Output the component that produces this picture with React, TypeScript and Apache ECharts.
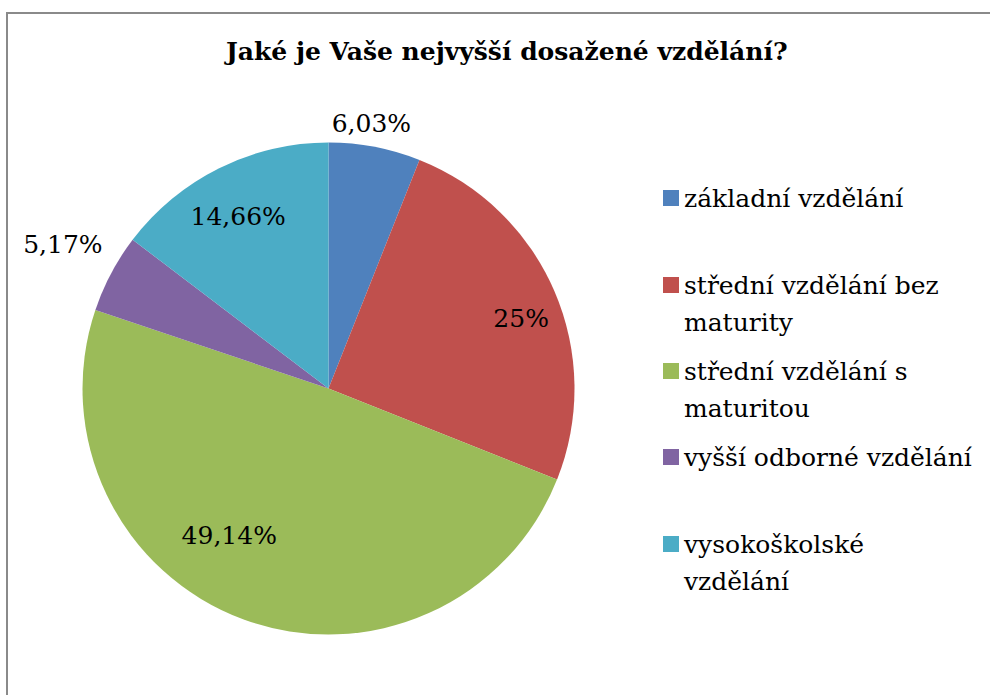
import React, { useEffect, useRef } from "react";
import * as echarts from "echarts";

const titleText = "Jaké je Vaše nejvyšší dosažené vzdělání?";
const categories = [
  "základní vzdělání",
  "střední vzdělání bez maturity",
  "střední vzdělání s maturitou",
  "vyšší odborné vzdělání",
  "vysokoškolské vzdělání",
];
const legendLabels = [
  "základní vzdělání",
  "střední vzdělání bez\nmaturity",
  "střední vzdělání s\nmaturitou",
  "vyšší odborné vzdělání",
  "vysokoškolské\nvzdělání",
];
const values = [6.03, 25, 49.14, 5.17, 14.66];
const colors = ["#4F81BD", "#C0504D", "#9BBB59", "#8064A2", "#4BACC6"];

const FONT = "DejaVu Serif";

// layout / style constants
const CX = 328.5;
const CY = 388.5;
const R = 246;
const LEGEND_ICON_CENTERS = [198, 285, 371, 457, 544];
const LEGEND_LH = 37;
// label nudges (Excel "best fit" placement), per slice
const LABEL_NUDGE = [
  [5, -68],
  [8, 9],
  [-30, -42],
  [-88, -50],
  [-1, 8],
];

function fmt(v: number) {
  return String(v).replace(".", ",") + "%";
}

export default function App() {
  const ref = useRef<HTMLDivElement>(null);
  useEffect(() => {
    if (!ref.current) return;
    const chart = echarts.init(ref.current, null, { renderer: "svg" });
    const data = categories.map((name, i) => ({
      name,
      value: values[i],
      itemStyle: { color: colors[i] },
    }));
    const legends = categories.map((name, i) => {
      const lbl = legendLabels[i];
      const multi = lbl.indexOf("\n") >= 0;
      const h = multi ? 3 * LEGEND_LH : LEGEND_LH;
      return {
        orient: "vertical",
        left: 663,
        top: LEGEND_ICON_CENTERS[i] - h / 2,
        padding: 0,
        data: [name],
        icon: "rect",
        itemWidth: 16,
        itemHeight: 16,
        selectedMode: false,
        formatter: () => (multi ? "\n" + lbl : lbl),
        textStyle: {
          fontFamily: FONT,
          fontSize: 25,
          lineHeight: LEGEND_LH,
          color: "#000",
        },
      };
    });
    chart.setOption({
      animation: false,
      backgroundColor: "#fff",
      textStyle: { fontFamily: FONT },
      title: {
        text: titleText,
        left: 226,
        top: 39,
        padding: 0,
        textStyle: {
          fontFamily: FONT,
          fontSize: 25,
          fontWeight: "bold",
          color: "#000",
        },
      },
      legend: legends,
      graphic: [
        {
          type: "rect",
          shape: { x: 7, y: 13, width: 1000, height: 700 },
          style: { fill: "none", stroke: "#8a8a8a", lineWidth: 2 },
          silent: true,
        },
      ],
      series: [
        {
          type: "pie",
          center: [CX, CY],
          radius: [0, R],
          startAngle: 90,
          clockwise: true,
          data,
          label: { show: false },
          labelLine: { show: false },
          emphasis: { disabled: true },
          silent: true,
        },
        {
          type: "pie",
          center: [CX, CY],
          radius: [150, R],
          startAngle: 90,
          clockwise: true,
          avoidLabelOverlap: false,
          silent: true,
          data: categories.map((name, i) => ({ name, value: values[i] })),
          itemStyle: { color: "rgba(0,0,0,0)" },
          label: {
            show: true,
            position: "inside",
            rotate: 0,
            formatter: (p: any) => fmt(p.value),
            fontFamily: FONT,
            fontSize: 25,
            color: "#000",
          },
          labelLine: { show: false },
          labelLayout: (p: any) => ({
            dx: LABEL_NUDGE[p.dataIndex][0],
            dy: LABEL_NUDGE[p.dataIndex][1],
          }),
          emphasis: { disabled: true },
        },
      ],
    });
    return () => chart.dispose();
  }, []);
  return (
    <div
      ref={ref}
      style={{ position: "absolute", left: 0, top: 0, width: 990, height: 695 }}
    />
  );
}
